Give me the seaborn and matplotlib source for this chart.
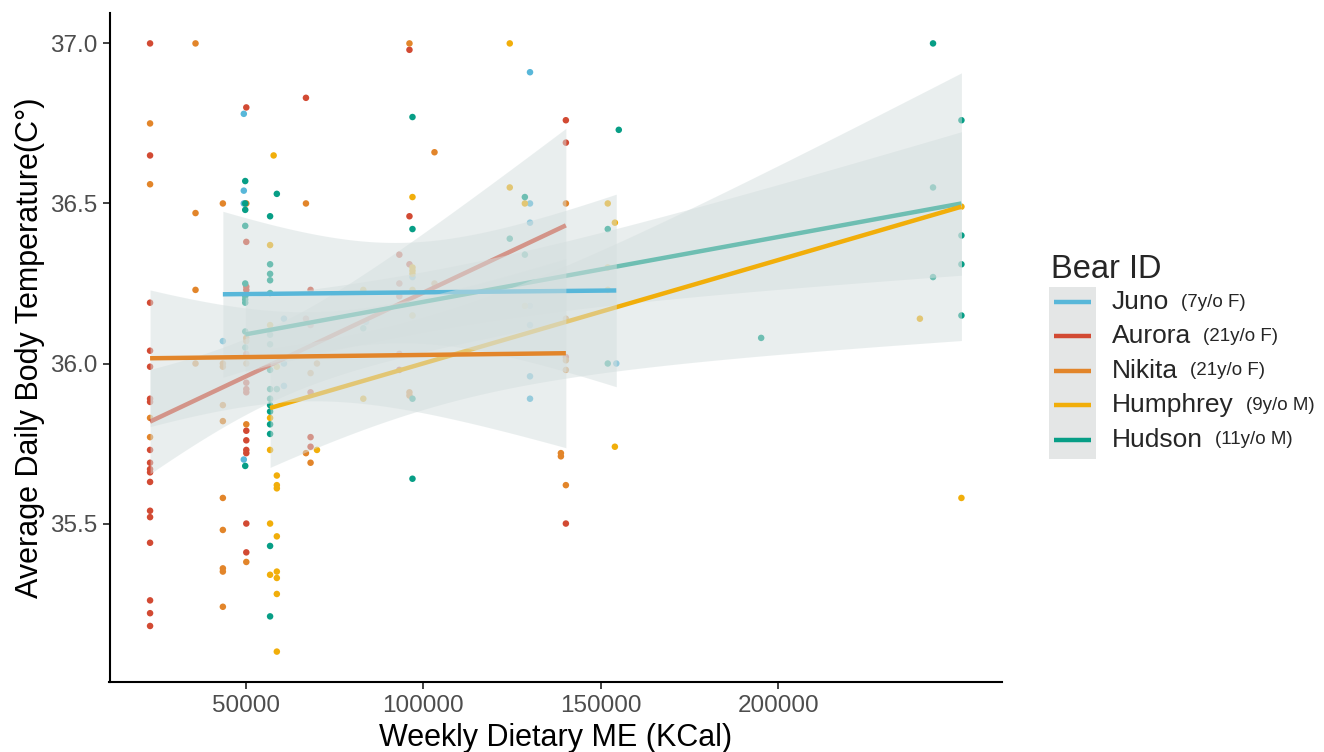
import numpy as np
import pandas as pd
import matplotlib
matplotlib.use("Agg")
import matplotlib.pyplot as plt
import seaborn as sns
from matplotlib.patches import Rectangle
from matplotlib.lines import Line2D

W, H = 1324, 752

# ---------------- data ----------------
bears = ["Juno", "Aurora", "Nikita", "Humphrey", "Hudson"]
bear_notes = ["(7y/o F)", "(21y/o F)", "(21y/o F)", "(9y/o M)", "(11y/o M)"]
bear_colors = ["#58B7D9", "#D24A33", "#E2852A", "#F1AE0A", "#079E86"]

x_ticks = [50000, 100000, 150000, 200000]
y_ticks = [35.5, 36.0, 36.5, 37.0]

juno_me = [43600, 49500, 49500, 49500, 49500, 60800, 60800, 60800, 83900,
           97000, 97000, 130100, 130100, 130100, 130100, 130100, 130100,
           130100, 154400]
juno_temp = [36.07, 36.78, 36.54, 36.50, 35.70, 36.14, 36.00, 35.93, 36.13,
             36.27, 36.15, 36.91, 36.50, 36.44, 36.18, 36.12, 35.96,
             35.89, 36.00]

aurora_me = [23100, 23100, 23100, 23100, 23100, 23100, 23100, 23100, 23100,
             23100, 23100, 23100, 23100, 23100, 23100, 23100, 23100, 23100,
             50200, 50200, 50200, 50200, 50200, 50200, 50200, 50200, 50200,
             50200, 50200, 50200, 50200, 50200,
             67000, 67000,
             68300, 68300, 68300, 68300, 68300,
             93300, 93300, 93300, 93300, 93300,
             96150, 96150, 96150,
             140200, 140200, 140200, 140200]
aurora_temp = [37.00, 36.65, 36.19, 36.04, 35.99, 35.89, 35.88, 35.73, 35.69,
               35.67, 35.66, 35.63, 35.54, 35.52, 35.44, 35.26, 35.22, 35.18,
               36.80, 36.38, 36.24, 36.23, 36.03, 35.94, 35.92, 35.91, 35.79,
               35.76, 35.73, 35.72, 35.50, 35.41,
               36.83, 36.14,
               36.23, 36.12, 35.91, 35.77, 35.74,
               36.34, 36.25, 36.21, 36.03, 35.98,
               36.98, 36.46, 36.31,
               36.76, 36.69, 36.02, 35.50]

nikita_me = [23100, 23100, 23100, 23100,
             35900, 35900, 35900, 35900,
             43600, 43600, 43600, 43600, 43600, 43600, 43600, 43600, 43600, 43600,
             50200, 50200, 50200, 50200, 50200, 50200,
             67000, 67000,
             68300, 68300,
             70100,
             96150, 96150, 96150,
             103200, 103200,
             138800, 138800,
             140200, 140200, 140200, 140200, 140200]
nikita_temp = [36.75, 36.56, 35.83, 35.77,
               37.00, 36.47, 36.23, 36.00,
               36.50, 36.00, 35.99, 35.87, 35.82, 35.58, 35.48, 35.36, 35.35, 35.24,
               36.50, 36.08, 36.07, 36.00, 35.81, 35.38,
               36.50, 35.72,
               35.97, 35.69,
               36.00,
               37.00, 35.91, 35.90,
               36.66, 36.25,
               35.72, 35.71,
               36.50, 36.14, 36.01, 35.98, 35.62]

humphrey_me = [56900, 56900, 56900, 56900, 56900, 56900,
               57900,
               58800, 58800, 58800, 58800, 58800, 58800, 58800, 58800, 58800,
               70100,
               83150, 83150,
               97000, 97000, 97000, 97000, 97000, 97000,
               124400, 124400,
               128650, 128650,
               152000, 152000, 152000,
               154000, 154000,
               239900,
               251600, 251600]
humphrey_temp = [36.37, 36.12, 35.83, 35.73, 35.50, 35.34,
                 36.65,
                 35.99, 35.65, 35.62, 35.61, 35.46, 35.35, 35.33, 35.28, 35.10,
                 35.73,
                 36.23, 35.89,
                 36.52, 36.30, 36.29, 36.28, 36.23, 36.15,
                 37.00, 36.55,
                 36.50, 36.18,
                 36.50, 36.30, 36.23,
                 36.44, 35.74,
                 36.14,
                 36.49, 35.58]

hudson_me = [49900, 49900, 49900, 49900, 49900, 49900, 49900, 49900, 49900,
             49900, 49900,
             56900, 56900, 56900, 56900, 56900, 56900, 56900, 56900, 56900,
             56900, 56900, 56900, 56900, 56900, 56900, 56900,
             58800, 58800,
             83150,
             97000, 97000, 97000, 97000,
             124400,
             128650, 128650,
             152000, 152000,
             155100,
             195200,
             243600, 243600, 243600,
             251600, 251600, 251600, 251600]
hudson_temp = [36.57, 36.50, 36.48, 36.43, 36.25, 36.21, 36.20, 36.19, 36.10,
               36.05, 35.68,
               36.46, 36.31, 36.28, 36.26, 36.22, 36.09, 36.06, 35.98, 35.92,
               35.89, 35.87, 35.85, 35.81, 35.78, 35.43, 35.21,
               36.53, 35.92,
               36.11,
               36.77, 36.42, 35.89, 35.64,
               36.39,
               36.52, 36.34,
               36.42, 36.00,
               36.73,
               36.08,
               37.00, 36.55, 36.27,
               36.76, 36.40, 36.31, 36.15]

me_lists = [juno_me, aurora_me, nikita_me, humphrey_me, hudson_me]
temp_lists = [juno_temp, aurora_temp, nikita_temp, humphrey_temp, hudson_temp]

df = pd.concat(
    [pd.DataFrame({"bear": b, "me": m, "temp": t})
     for b, m, t in zip(bears, me_lists, temp_lists)],
    ignore_index=True)
palette = dict(zip(bears, bear_colors))

# ---------------- style ----------------
sns.set_theme(style="ticks")
plt.rcParams["font.family"] = ["Liberation Sans", "DejaVu Sans"]

fig = plt.figure(figsize=(W / 100, H / 100), dpi=100)
ax = fig.add_axes([109.5 / W, 1 - 682 / H, (1002 - 109.5) / W, (682 - 13) / H])

sns.scatterplot(data=df, x="me", y="temp", hue="bear", palette=palette,
                s=22, linewidth=0, legend=False, ax=ax, zorder=2)

BAND = "#D5DFDF"


def t975(dof):
    z = 1.959964
    return (z + (z**3 + z) / (4 * dof)
            + (5 * z**5 + 16 * z**3 + 3 * z) / (96 * dof**2)
            + (3 * z**7 + 19 * z**5 + 17 * z**3 - 15 * z) / (384 * dof**3))


for k, name in enumerate(sorted(bears)):
    sub = df[df.bear == name]
    x = sub.me.to_numpy(float)
    y = sub.temp.to_numpy(float)
    n = len(x)
    b, a = np.polyfit(x, y, 1)
    xs = np.linspace(x.min(), x.max(), 120)
    yh = a + b * xs
    s = np.sqrt(np.sum((y - (a + b * x)) ** 2) / (n - 2))
    se = s * np.sqrt(1 / n + (xs - x.mean()) ** 2 / np.sum((x - x.mean()) ** 2))
    tq = t975(n - 2)
    ax.fill_between(xs, yh - tq * se, yh + tq * se, color=BAND, alpha=0.5,
                    lw=0, zorder=3 + 2 * k)
    sns.regplot(data=sub, x="me", y="temp", scatter=False, ci=None,
                color=palette[name], truncate=True, ax=ax,
                line_kws=dict(lw=3.2, zorder=4 + 2 * k, solid_capstyle="butt"))

xmin, xmax = df.me.min(), df.me.max()
ymin, ymax = df.temp.min(), df.temp.max()
ax.set_xlim(xmin - 0.05 * (xmax - xmin), xmax + 0.05 * (xmax - xmin))
ax.set_ylim(ymin - 0.05 * (ymax - ymin), ymax + 0.05 * (ymax - ymin))

ax.set_xticks(x_ticks)
ax.set_xticklabels([str(v) for v in x_ticks])
ax.set_yticks(y_ticks)
ax.set_yticklabels([f"{v:.1f}" for v in y_ticks])

for sp in ["top", "right"]:
    ax.spines[sp].set_visible(False)
for sp in ["left", "bottom"]:
    ax.spines[sp].set_linewidth(1.5)
    ax.spines[sp].set_color("black")
ax.tick_params(length=5, width=1.3, color="#333333", labelsize=17.5,
               labelcolor="#4D4D4D", pad=4)

ax.set_xlabel("Weekly Dietary ME (KCal)", fontsize=22, color="black")
ax.set_ylabel("Average Daily Body Temperature(C°)", fontsize=22, color="black")
ax.xaxis.set_label_coords(0.5, (682 - 723) / 669)
ax.yaxis.set_label_coords((45 - 109.5) / 892.5, 0.5)

# ---------------- legend (manual) ----------------
fig.text(1051 / W, 1 - 269 / H, "Bear ID", fontsize=23.5, va="center", ha="left")
fig.add_artist(Rectangle((1049 / W, 1 - 459 / H), 47 / W, 172 / H,
                         transform=fig.transFigure, facecolor="#E4E6E6",
                         edgecolor="none"))
renderer = fig.canvas.get_renderer()
for i, (name, note, col) in enumerate(zip(bears, bear_notes, bear_colors)):
    yy = 1 - (302 + 34.4 * i) / H
    fig.add_artist(Line2D([1054 / W, 1091 / W], [yy, yy], color=col, lw=3.2,
                          transform=fig.transFigure, solid_capstyle="butt"))
    t = fig.text(1112 / W, yy, name, fontsize=19, va="center", ha="left")
    bb = t.get_window_extent(renderer=renderer)
    fig.text((bb.x1 + 12) / W, yy, note, fontsize=13.5, va="center", ha="left")

fig.savefig("out.png", dpi=100)
